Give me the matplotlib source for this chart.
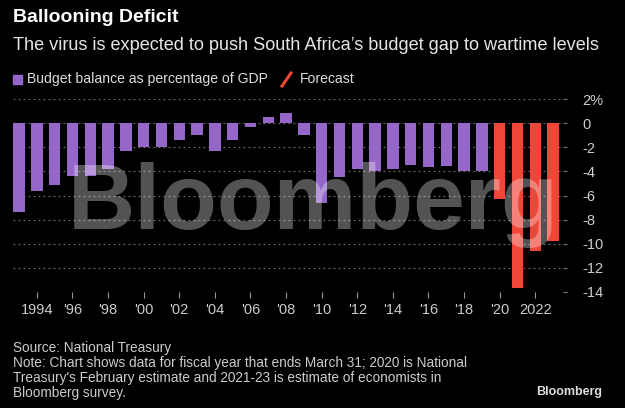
import matplotlib
matplotlib.use("Agg")
import matplotlib.pyplot as plt
from matplotlib.lines import Line2D
from matplotlib.patches import Rectangle

# fiscal years ending March 31
years = list(range(1993, 2020))
balance = [-7.4, -5.6, -5.1, -4.4, -4.4, -3.8, -2.3, -2.0, -2.0, -1.4,
           -1.0, -2.3, -1.4, -0.3, 0.5, 0.9, -1.0, -6.6, -4.5, -3.8,
           -4.0, -3.8, -3.5, -3.65, -3.55, -3.95, -3.95]
forecast_years = [2020, 2021, 2022, 2023]
forecast = [-6.3, -13.7, -10.6, -9.8]

xtick_years = list(range(1994, 2023, 2))
xtick_labels = ["1994", "'96", "'98", "'00", "'02", "'04", "'06", "'08",
                "'10", "'12", "'14", "'16", "'18", "'20", "2022"]
ytick_vals = [2, 0, -2, -4, -6, -8, -10, -12, -14]
ytick_labels = ["2%", "0", "-2", "-4", "-6", "-8", "-10", "-12", "-14"]

PURPLE = "#9467c8"
RED = "#f0463a"
BG = "#000000"

plt.rcParams["font.family"] = ["Liberation Sans", "DejaVu Sans"]

fig = plt.figure(figsize=(6.25, 4.08), dpi=100, facecolor=BG)
ax = fig.add_axes([0.0208, 0.285, 0.88, 0.4716], facecolor=BG)

ax.bar(years, balance, width=0.64, color=PURPLE, zorder=2)
ax.bar(forecast_years, forecast, width=0.64, color=RED, zorder=2)

ax.set_xlim(1992.66, 2023.56)
ax.set_ylim(-14, 2)

ax.set_yticks(ytick_vals)
ax.set_yticklabels(ytick_labels)
ax.yaxis.tick_right()
ax.tick_params(axis="y", colors="#777777", labelcolor="#cccccc", length=3,
               pad=11, labelsize=10.5)
for lab in ax.get_yticklabels():
    lab.set_horizontalalignment("left")

ax.set_xticks(xtick_years)
ax.set_xticklabels(xtick_labels)
ax.tick_params(axis="x", colors="#999999", labelcolor="#cccccc", length=4,
               pad=4, labelsize=10.5)

ax.grid(axis="y", color="#666666", linestyle=(0, (1.5, 2.5)), linewidth=0.9, zorder=1)
ax.grid(axis="x", visible=False)
for sp in ax.spines.values():
    sp.set_visible(False)

# watermark
ax.text(0.545, 0.45, "Bloomberg", transform=ax.transAxes, ha="center", va="center",
        fontsize=67, fontweight="bold", color="white", alpha=0.33, zorder=3)

# titles
fig.text(13 / 625, 1 - 17 / 408, "Ballooning Deficit", ha="left", va="center",
         fontsize=14, fontweight="bold", color="white")
fig.text(13 / 625, 1 - 45 / 408,
         "The virus is expected to push South Africa\u2019s budget gap to wartime levels",
         ha="left", va="center", fontsize=13.1, color="#e6e6e6")

# legend
fig.patches.append(Rectangle((13 / 625, 1 - 84 / 408), 9 / 625, 9 / 408,
                             transform=fig.transFigure, color=PURPLE))
fig.text(27 / 625, 1 - 79 / 408, "Budget balance as percentage of GDP", ha="left",
         va="center", fontsize=10.1, color="#dddddd")
fig.lines.append(Line2D([282 / 625, 291 / 625], [1 - 86 / 408, 1 - 73 / 408],
                        transform=fig.transFigure, color=RED, linewidth=2.2))
fig.text(300 / 625, 1 - 79 / 408, "Forecast", ha="left", va="center",
         fontsize=10.1, color="#dddddd")

# footer
notes = ["Source: National Treasury",
         "Note: Chart shows data for fiscal year that ends March 31; 2020 is National",
         "Treasury's February estimate and 2021-23 is estimate of economists in",
         "Bloomberg survey."]
for i, line in enumerate(notes):
    fig.text(13 / 625, 1 - (348 + 15 * i) / 408, line, ha="left", va="center",
             fontsize=9.8, color="#cccccc")
fig.text(602 / 625, 1 - 392 / 408, "Bloomberg", ha="right", va="center",
         fontsize=9, fontweight="bold", color="#dddddd")

fig.savefig("out.png", dpi=100, facecolor=BG)
